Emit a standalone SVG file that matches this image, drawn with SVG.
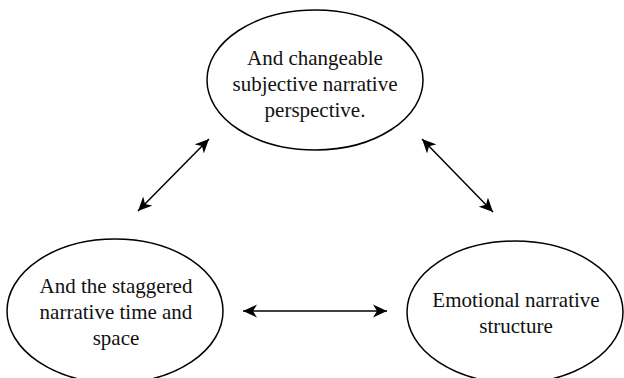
<svg xmlns="http://www.w3.org/2000/svg" width="624" height="378" viewBox="0 0 624 378">
<style>
.node ellipse{fill:#fff;stroke:#000;stroke-width:1.5}
.node text{font-family:"Liberation Serif","Times New Roman",serif;font-size:21px;fill:#111;text-anchor:middle}
.conn line{stroke:#000;stroke-width:1.5;marker-start:url(#ah);marker-end:url(#ah)}
</style>
<defs>
<marker id="ah" markerUnits="userSpaceOnUse" markerWidth="14" markerHeight="14" viewBox="0 0 14 14" refX="14" refY="7" orient="auto-start-reverse">
<path d="M0,0.5 L14,7 L0,13.5 L4,7 Z" fill="#000"/>
</marker>
</defs>
<rect width="624" height="378" fill="#fff"/>
<g id="node-perspective" class="node">
<ellipse cx="315" cy="80" rx="108" ry="70"/>
<text x="315" y="65">And changeable</text>
<text x="315" y="91">subjective narrative</text>
<text x="315" y="117">perspective.</text>
</g>
<g id="node-timespace" class="node">
<ellipse cx="115" cy="311" rx="108" ry="72"/>
<text x="116" y="293">And the staggered</text>
<text x="116" y="319">narrative time and</text>
<text x="116" y="345">space</text>
</g>
<g id="node-structure" class="node">
<ellipse cx="515" cy="312" rx="108" ry="71"/>
<text x="516" y="307">Emotional narrative</text>
<text x="516" y="333">structure</text>
</g>
<g id="connectors" class="conn">
<line x1="138" y1="211" x2="209" y2="139"/>
<line x1="422" y1="139" x2="493" y2="212"/>
<line x1="243" y1="311" x2="387" y2="311"/>
</g>
</svg>
